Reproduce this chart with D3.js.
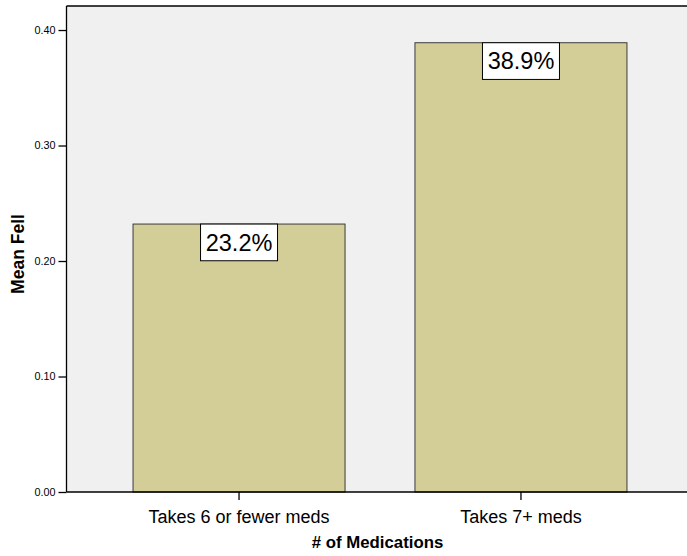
<!DOCTYPE html>
<html>
<head>
<meta charset="utf-8">
<script src="https://cdn.jsdelivr.net/npm/d3@7"></script>
<style>
  html, body { margin: 0; padding: 0; background: #ffffff; }
  svg { display: block; font-family: Arial, "Liberation Sans", sans-serif; }
</style>
</head>
<body>
<svg id="chart" width="687" height="556"></svg>
<script>
// Share of patients who fell, by number of medications taken
const categories = ["Takes 6 or fewer meds", "Takes 7+ meds"];
const meanFell = [0.232, 0.389];
const valueLabels = ["23.2%", "38.9%"];
const yTicks = [0.0, 0.1, 0.2, 0.3, 0.4];

const FONT = "Arial, 'Liberation Sans', sans-serif";
const svg = d3.select("#chart");
const plot = { left: 66.5, top: 6, bottom: 492, right: 693.5 };

const y = d3.scaleLinear()
  .domain([0, 0.4208])
  .range([plot.bottom, plot.top]);

const x = d3.scaleBand()
  .domain(categories)
  .range([plot.left, plot.right])
  .paddingInner(0.248)
  .paddingOuter(0.236);

// plot background
svg.append("rect")
  .attr("x", plot.left)
  .attr("y", plot.top)
  .attr("width", plot.right - plot.left)
  .attr("height", plot.bottom - plot.top)
  .attr("fill", "#f0f0f0");

// top frame line
svg.append("line")
  .attr("x1", plot.left).attr("x2", plot.right)
  .attr("y1", plot.top).attr("y2", plot.top)
  .attr("stroke", "#000").attr("stroke-width", 1.3);

// bars
const data = categories.map((c, i) => ({ c, v: meanFell[i], label: valueLabels[i] }));

svg.append("g").selectAll("rect")
  .data(data)
  .join("rect")
  .attr("x", d => x(d.c))
  .attr("y", d => y(d.v))
  .attr("width", x.bandwidth())
  .attr("height", d => y(0) - y(d.v))
  .attr("fill", "#d3ce98")
  .attr("stroke", "#3a3a3a")
  .attr("stroke-width", 1);

// value labels in white boxes at the top of each bar
const lbl = svg.append("g").selectAll("g")
  .data(data)
  .join("g")
  .attr("transform", d => `translate(${x(d.c) + x.bandwidth() / 2},${y(d.v)})`);

lbl.append("rect")
  .attr("x", -38.5)
  .attr("y", 0)
  .attr("width", 77)
  .attr("height", 36.7)
  .attr("fill", "#ffffff")
  .attr("stroke", "#000")
  .attr("stroke-width", 1);

lbl.append("text")
  .attr("x", 0)
  .attr("y", 26.7)
  .attr("text-anchor", "middle")
  .attr("font-size", "23.5px")
  .attr("fill", "#000")
  .text(d => d.label);

// y axis
const yAxis = svg.append("g")
  .attr("transform", `translate(${plot.left},0)`)
  .call(d3.axisLeft(y).tickValues(yTicks).tickFormat(d3.format(".2f")).tickSize(8).tickPadding(3));
yAxis.select(".domain").attr("stroke", "#000").attr("stroke-width", 1.3)
  .attr("d", `M0,${plot.bottom}V${plot.top}`);
yAxis.selectAll(".tick line").attr("stroke", "#000").attr("stroke-width", 1.3);
yAxis.selectAll(".tick text")
  .attr("font-size", "10.8px")
  .attr("font-family", FONT)
  .attr("fill", "#000");

// x axis
const xAxis = svg.append("g")
  .attr("transform", `translate(0,${plot.bottom})`)
  .call(d3.axisBottom(x).tickSize(8).tickPadding(0));
xAxis.select(".domain").attr("stroke", "#000").attr("stroke-width", 1.3)
  .attr("d", `M${plot.left},0H${plot.right}`);
xAxis.selectAll(".tick line").attr("stroke", "#000").attr("stroke-width", 1.3);
xAxis.selectAll(".tick text")
  .attr("y", 30.7)
  .attr("dy", null)
  .attr("font-size", "18px")
  .attr("font-family", FONT)
  .attr("fill", "#000");

// axis titles
svg.append("text")
  .attr("transform", `translate(23.5,254) rotate(-90)`)
  .attr("text-anchor", "middle")
  .attr("font-size", "17.5px")
  .attr("font-weight", "bold")
  .text("Mean Fell");

svg.append("text")
  .attr("x", 377.5)
  .attr("y", 548.3)
  .attr("text-anchor", "middle")
  .attr("font-size", "16.8px")
  .attr("font-weight", "bold")
  .text("# of Medications");
</script>
</body>
</html>
